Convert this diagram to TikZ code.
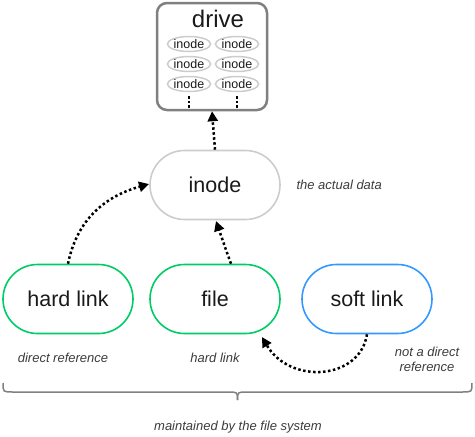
\documentclass[tikz,border=0pt]{standalone}
\usepackage{fontspec}
\setmainfont{Liberation Sans}
\usetikzlibrary{arrows.meta,shapes.geometric}
\definecolor{grn}{HTML}{00CC66}
\definecolor{blu}{HTML}{3399FF}
\definecolor{lgray}{HTML}{CCCCCC}
\definecolor{dgray}{HTML}{808080}
\definecolor{txt}{HTML}{1A1A1A}
\begin{document}
\begin{tikzpicture}[x=1pt,y=-1pt,
  pill/.style={draw, line width=1.6pt, rounded corners=34.5pt, minimum width=130pt, minimum height=69pt, inner sep=0pt, font=\fontsize{21.5}{26}\selectfont, text=txt},
  smallin/.style={draw=lgray, line width=1.5pt, ellipse, minimum width=43pt, minimum height=15pt, inner sep=0pt, font=\fontsize{12.5}{14}\selectfont, text=txt},
  note/.style={font=\itshape\fontsize{13}{15}\selectfont, text=txt!85, align=center},
  dotarrow/.style={line width=2.5pt, dash pattern=on 2.5pt off 2.5pt, -{Triangle[length=10pt,width=10pt]}, shorten >=0pt},
  dotline/.style={line width=2.5pt, dash pattern=on 2.5pt off 2pt}
]
\useasboundingbox (0,0) rectangle (475,437);
% drive
\node (drive) [draw=dgray, line width=2.5pt, rounded corners=10pt, minimum width=110pt, minimum height=107pt, inner sep=0pt] at (212,56.5) {};
\node (drivelbl) [font=\fontsize{24}{28}\selectfont, text=txt] at (218,19) {drive};
\node (i11) [smallin] at (189,44) {inode};
\node (i12) [smallin] at (237,44) {inode};
\node (i21) [smallin] at (189,64) {inode};
\node (i22) [smallin] at (237,64) {inode};
\node (i31) [smallin] at (189,84) {inode};
\node (i32) [smallin] at (237,84) {inode};
\coordinate (d1e) at (189,109);
\coordinate (d2e) at (237,109);
\draw[dotline] (i31.south) ++(0,4) -- (d1e);
\draw[dotline] (i32.south) ++(0,4) -- (d2e);
% inode
\node (inode) [pill, draw=lgray] at (215,185) {inode};
\node (actual) [note, anchor=west] at (293,185) {the actual data};
% bottom row
\node (hard) [pill, draw=grn] at (68,299) {hard link};
\node (file) [pill, draw=grn] at (215,299) {file};
\node (soft) [pill, draw=blu] at (367,299) {soft link};
% labels
\node (l1) [note] at (63,358) {direct reference};
\node (l2) [note] at (215,358) {hard link};
\node (l3) [note] at (427,359) {not a direct\\reference};
% arrows
\draw[dotarrow] (inode.north) -- (drive.south);
\draw[dotarrow] ([xshift=16pt]file.north) .. controls (226,250) .. (216,221);
\draw[dotarrow] (hard.north) .. controls (78,215) and (110,195) .. (149,184);
\coordinate (fbr) at (262,337);
\draw[dotarrow] (soft.south) .. controls (360,380) and (290,385) .. (fbr);
% brace
\coordinate (bl) at (3,383);
\coordinate (br) at (472,383);
\coordinate (btip) at (237.5,400);
\draw[dgray, line width=1.5pt] (bl) .. controls (3,392) .. (13,392) -- (228,392) .. controls (237.5,392) .. (btip);
\draw[dgray, line width=1.5pt] (br) .. controls (472,392) .. (462,392) -- (247,392) .. controls (237.5,392) .. (btip);
\node (maint) [note] at (238,427) {maintained by the file system};
\end{tikzpicture}
\end{document}
